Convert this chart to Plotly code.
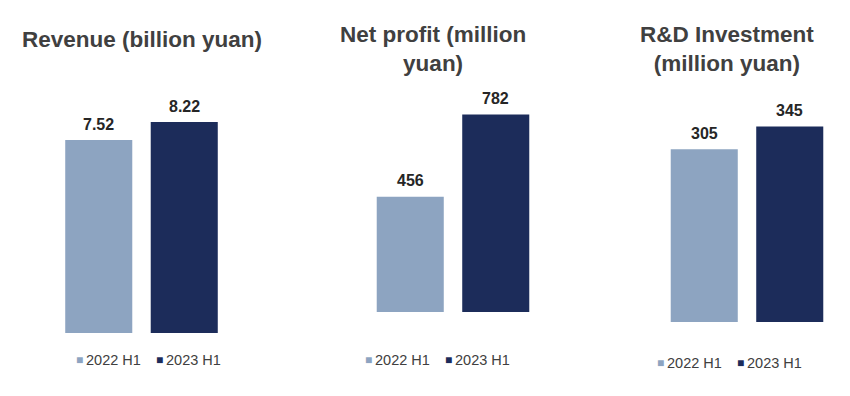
import plotly.graph_objects as go

series = ["2022 H1", "2023 H1"]
colors = ["#8DA4C1", "#1C2C5A"]

titles = ["Revenue (billion yuan)", "Net profit (million<br>yuan)", "R&D Investment<br>(million yuan)"]
revenue = [7.52, 8.22]
net_profit = [456, 782]
rnd = [305, 345]
panels = [revenue, net_profit, rnd]
fmts = ["{:.2f}", "{:.0f}", "{:.0f}"]

W, H = 850, 396
OFF = 8  # page body margin
# pixel layout of each panel (page coordinates)
xdom_px = [(56, 227), (367.5, 538.5), (661.5, 832.5)]
base_px = [333, 312, 322]
top_px = 100
yranges = [9.08, 839, 392]
legend_origin = [(79, 360), (368, 360), (660, 363)]
LEG_STEP = 80
LEG_TEXT_DX = 5
title_pos = [(20, 39, "left"), (433, 49, "center"), (727, 49.5, "center")]

FONT = "Liberation Sans, Arial, sans-serif"


def px(v):
    return (v - OFF) / W


def py(v):
    return (H - (v - OFF)) / H


fig = go.Figure()
layout = dict(
    width=W, height=H, margin=dict(l=0, r=0, t=0, b=0),
    paper_bgcolor="white", plot_bgcolor="white",
    barmode="group", bargap=0.216,
    font=dict(family=FONT, color="#404040"),
    showlegend=False,
)
annotations = []
for i, vals in enumerate(panels):
    ax = "" if i == 0 else str(i + 1)
    lx, ly = legend_origin[i]
    for j, s in enumerate(series):
        fig.add_trace(go.Bar(
            x=[s], y=[vals[j]], name=s,
            marker=dict(color=colors[j], line=dict(width=0)),
            xaxis="x" + ax, yaxis="y" + ax,
            offsetgroup="g",
        ))
        annotations.append(dict(
            x=s, y=vals[j], xref="x" + ax, yref="y" + ax,
            text=fmts[i].format(vals[j]), showarrow=False,
            yanchor="middle", yshift=16,
            font=dict(family=FONT, size=16, color="#262626", weight="bold"),
        ))
        # legend: swatch + label
        annotations.append(dict(
            x=px(lx + j * LEG_STEP), y=py(ly), xref="paper", yref="paper",
            xanchor="center", yanchor="middle", text="■", showarrow=False,
            font=dict(family=FONT, size=12, color=colors[j]),
        ))
        annotations.append(dict(
            x=px(lx + j * LEG_STEP + LEG_TEXT_DX), y=py(ly), xref="paper", yref="paper",
            xanchor="left", yanchor="middle", text=s, showarrow=False,
            font=dict(family=FONT, size=14.5, color="#404040"),
        ))
    x0, x1 = xdom_px[i]
    layout["xaxis" + ax] = dict(
        domain=[px(x0), px(x1)], type="category", categoryorder="array",
        categoryarray=series, visible=False,
        anchor="y" + ax,
    )
    layout["yaxis" + ax] = dict(
        domain=[py(base_px[i]), py(top_px)],
        range=[0, yranges[i]], visible=False, anchor="x" + ax,
    )
    tx, ty, anc = title_pos[i]
    annotations.append(dict(
        x=px(tx), y=py(ty), xref="paper", yref="paper",
        xanchor=anc, yanchor="middle", align="center",
        text=titles[i], showarrow=False,
        font=dict(family=FONT, size=22.5, color="#404040", weight="bold"),
    ))

layout["annotations"] = annotations
fig.update_layout(**layout)
fig.write_html("out.html")
